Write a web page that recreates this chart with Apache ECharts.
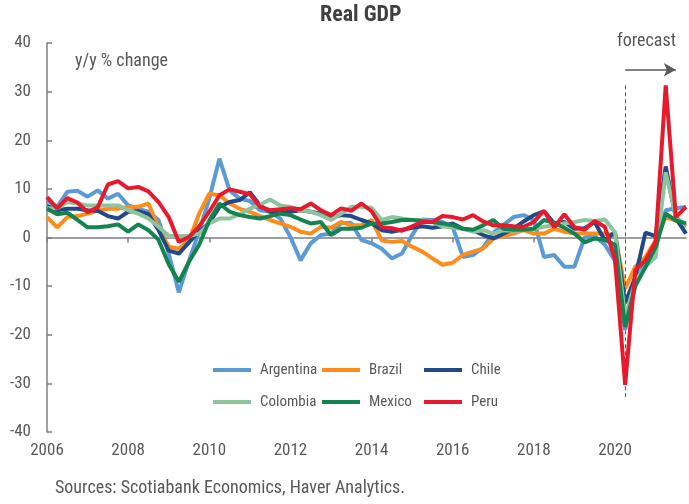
<!DOCTYPE html>
<html>
<head>
<meta charset="utf-8">
<script src="https://cdn.jsdelivr.net/npm/echarts@6/dist/echarts.min.js"></script>
<style>
html,body{margin:0;padding:0;background:#fff;}
#chart{width:689px;height:504px;}
</style>
</head>
<body>
<div id="chart"></div>
<script>
const years = [2006,2007,2008,2009,2010,2011,2012,2013,2014,2015,2016,2017,2018,2019,2020,2021];
const quarterNames = ['Q1','Q2','Q3','Q4'];
const categories = [];
years.forEach(y => quarterNames.forEach(q => categories.push(y + q)));

const argentina = [
  7.7, 6.3, 9.4, 9.6,   8.4, 9.7, 8.0, 9.0,   6.6, 5.9, 5.3, 3.6,   -3.3, -11.3, -4.7, 1.2,
  8.0, 16.2, 9.7, 8.0,  7.5, 5.6, 5.3, 3.9,   0.1, -4.7, -1.2, 0.5,  0.8, 3.0, 3.0, -0.5,
  -1.2, -2.3, -4.3, -3.3, 0.5, 3.7, 3.6, 3.2, 2.2, -4.0, -3.6, -2.1, 1.0, 2.6, 4.2, 4.6,
  3.6, -4.0, -3.6, -6.0, -6.0, 0.0, 0.3, -1.5, -4.8, -19.0, -9.5, -4.6, -2.0, 5.6, 6.0, 6.3
];
const brazil = [
  4.2, 2.1, 4.2, 4.4,   4.9, 5.5, 5.9, 5.9,   6.3, 6.3, 7.0, 2.0,   -1.9, -2.3, -0.6, 4.9,
  9.0, 8.7, 7.0, 5.9,   5.3, 4.4, 3.6, 2.9,   2.2, 1.2, 0.8, 2.2,   2.0, 3.2, 2.5, 2.5,
  3.6, -0.6, -0.9, -0.7, -1.9, -2.9, -4.3, -5.6, -5.2, -3.6, -2.9, -2.3, -0.2, 0.3, 0.8, 1.5,
  0.8, 0.8, 1.8, 1.2,   0.8, 0.8, 0.8, 0.8,   0.5, -10.5, -6.0, -4.0, -0.6, 4.2, 3.5, 2.2
];
const chile = [
  6.5, 5.6, 5.9, 5.9,   5.6, 5.5, 4.4, 3.9,   5.3, 5.4, 4.8, 1.5,   -2.7, -3.3, -1.0, 1.2,
  3.0, 6.3, 7.3, 7.7,   9.3, 6.6, 5.3, 5.1,   5.3, 5.6, 5.3, 4.9,   4.1, 4.6, 4.4, 3.6,
  2.9, 1.5, 1.2, 1.6,   2.0, 2.3, 2.0, 2.3,   2.9, 1.8, 1.5, 0.5,   -0.2, 0.8, 1.8, 3.3,
  4.6, 5.4, 2.9, 3.2,   1.8, 1.9, 3.2, -0.6,  1.1, -13.5, -8.1, 1.0, 0.3, 14.6, 4.0, 0.8
];
const colombia = [
  6.0, 6.0, 7.3, 7.0,   6.6, 6.6, 6.6, 6.6,   5.6, 4.9, 3.9, 2.2,   0.3, 0.3, 0.3, 0.8,
  2.9, 3.9, 3.9, 4.8,   5.9, 6.8, 7.8, 6.6,   6.3, 5.6, 5.3, 4.6,   3.6, 4.9, 6.3, 6.3,
  6.1, 3.6, 4.2, 3.9,   3.6, 3.6, 3.2, 2.3,   2.0, 1.8, 1.2, 1.5,   0.8, 1.5, 1.4, 1.5,
  1.8, 2.2, 2.5, 2.9,   3.2, 3.6, 3.4, 3.7,   1.1, -16.5, -9.0, -6.0, -4.0, 13.4, 4.2, 2.5
];
const mexico = [
  5.9, 4.8, 5.1, 3.6,   2.1, 2.1, 2.3, 2.7,   1.2, 2.7, 1.5, -0.5,  -5.5, -9.1, -5.0, -1.5,
  3.5, 7.0, 5.3, 4.6,   4.2, 3.9, 4.4, 4.9,   4.6, 3.7, 2.9, 3.2,   0.5, 1.8, 1.8, 2.0,
  2.9, 2.9, 3.2, 3.6,   3.6, 3.4, 3.2, 2.9,   2.5, 1.8, 1.6, 2.5,   3.6, 1.8, 1.6, 1.6,
  1.8, 3.6, 3.0, 2.0,   0.8, -1.0, -0.2, -0.5, -1.5, -18.4, -10.0, -6.1, -2.0, 4.9, 3.5, 2.9
];
const peru = [
  8.3, 6.0, 8.1, 7.2,   5.2, 6.2, 10.9, 11.6, 10.1, 10.4, 9.5, 7.3,  4.2, -0.9, 0.1, 2.3,
  5.3, 8.7, 9.9, 9.4,   8.9, 6.3, 5.6, 5.8,   6.0, 5.8, 7.0, 5.6,   4.6, 6.0, 5.5, 7.0,
  5.4, 2.1, 1.9, 1.4,   2.3, 3.2, 3.2, 4.4,   4.2, 3.7, 4.6, 3.3,   2.5, 2.5, 2.3, 2.2,
  3.2, 5.5, 2.1, 4.8,   2.1, 1.6, 3.4, 2.2,   -4.5, -30.3, -6.7, -4.7, -0.9, 31.3, 4.2, 6.3
];

const yTicks = {min: -40, max: 40, interval: 10};
const forecastStart = '2020Q2';

const seriesDefs = [
  {name: 'Argentina', data: argentina, color: '#5B9BD5'},
  {name: 'Brazil', data: brazil, color: '#FF8C1A'},
  {name: 'Chile', data: chile, color: '#1F4A86'},
  {name: 'Colombia', data: colombia, color: '#8DC49D'},
  {name: 'Mexico', data: mexico, color: '#13844F'},
  {name: 'Peru', data: peru, color: '#E8192C'}
];

const FONT = "'Roboto Condensed', 'Liberation Sans', sans-serif";
const TXT = '#595959';

const chart = echarts.init(document.getElementById('chart'), null, {renderer: 'canvas'});

const series = seriesDefs.map((s, i) => ({
  name: s.name,
  type: 'line',
  data: s.data,
  symbol: 'none',
  showSymbol: false,
  smooth: false,
  lineStyle: {width: 4, color: s.color},
  itemStyle: {color: s.color},
  emphasis: {disabled: true},
  z: 2 + i
}));

series[0].markLine = {
  silent: true,
  animation: false,
  label: {show: false},
  emphasis: {disabled: true},
  data: [
    [
      {coord: [forecastStart, 31.3], symbol: 'none', lineStyle: {type: [4, 3], color: '#595959', width: 1}},
      {coord: [forecastStart, -32.8], symbol: 'none'}
    ],
    [
      {coord: [57, 34.5], symbol: 'none', lineStyle: {type: 'solid', color: '#595959', width: 1.5}},
      {coord: [62, 34.5], symbol: 'arrow', symbolSize: [10, 12]}
    ]
  ],
  lineStyle: {color: '#595959', width: 1, type: 'solid'}
};

function legendCol(left, names) {
  return {
    orient: 'vertical',
    left: left,
    top: 361,
    padding: 0,
    itemWidth: 38,
    itemHeight: 4,
    itemGap: 14,
    icon: 'rect',
    selectedMode: false,
    data: names,
    textStyle: {fontFamily: FONT, fontSize: 15, color: TXT, lineHeight: 18, padding: [0, 0, 0, 4]}
  };
}

const option = {
  animation: false,
  backgroundColor: '#ffffff',
  title: {
    text: 'Real GDP',
    left: 320,
    top: 4,
    padding: 0,
    textStyle: {fontFamily: FONT, fontSize: 22, fontWeight: 'bold', color: '#404040'}
  },
  legend: [
    legendCol(213, ['Argentina', 'Colombia']),
    legendCol(322, ['Brazil', 'Mexico']),
    legendCol(424, ['Chile', 'Peru'])
  ],
  grid: {left: 47, right: 3, top: 43, bottom: 72, containLabel: false},
  xAxis: [
    {
      type: 'category',
      data: categories,
      boundaryGap: false,
      axisLine: {show: false, onZero: false},
      axisTick: {show: false},
      axisLabel: {
        interval: 7,
        margin: 10,
        fontFamily: FONT,
        fontSize: 17,
        color: TXT,
        formatter: v => v.slice(0, 4)
      },
      splitLine: {show: false}
    },
    {
      type: 'category',
      data: categories,
      boundaryGap: false,
      position: 'bottom',
      axisLine: {show: true, onZero: true, onZeroAxisIndex: 0, lineStyle: {color: '#7F7F7F', width: 1.5}},
      axisTick: {show: true, interval: 7, length: 5, inside: false, lineStyle: {color: '#7F7F7F', width: 1.5}},
      axisLabel: {show: false},
      splitLine: {show: false}
    }
  ],
  yAxis: {
    type: 'value',
    min: yTicks.min,
    max: yTicks.max,
    interval: yTicks.interval,
    axisLine: {show: true, lineStyle: {color: '#7F7F7F', width: 1.5}},
    axisTick: {show: true, inside: true, length: 5, lineStyle: {color: '#7F7F7F', width: 1.5}},
    axisLabel: {margin: 16, fontFamily: FONT, fontSize: 17, color: TXT},
    splitLine: {show: false}
  },
  graphic: [
    {type: 'text', left: 75, top: 52, style: {text: 'y/y % change', fontFamily: FONT, fontSize: 18, fill: TXT}},
    {type: 'text', left: 617, top: 32, style: {text: 'forecast', fontFamily: FONT, fontSize: 18, fill: TXT}},
    {type: 'text', left: 55, top: 479, style: {text: 'Sources: Scotiabank Economics, Haver Analytics.', fontFamily: FONT, fontSize: 18, fill: TXT}}
  ],
  series: series
};

chart.setOption(option);
</script>
</body>
</html>
